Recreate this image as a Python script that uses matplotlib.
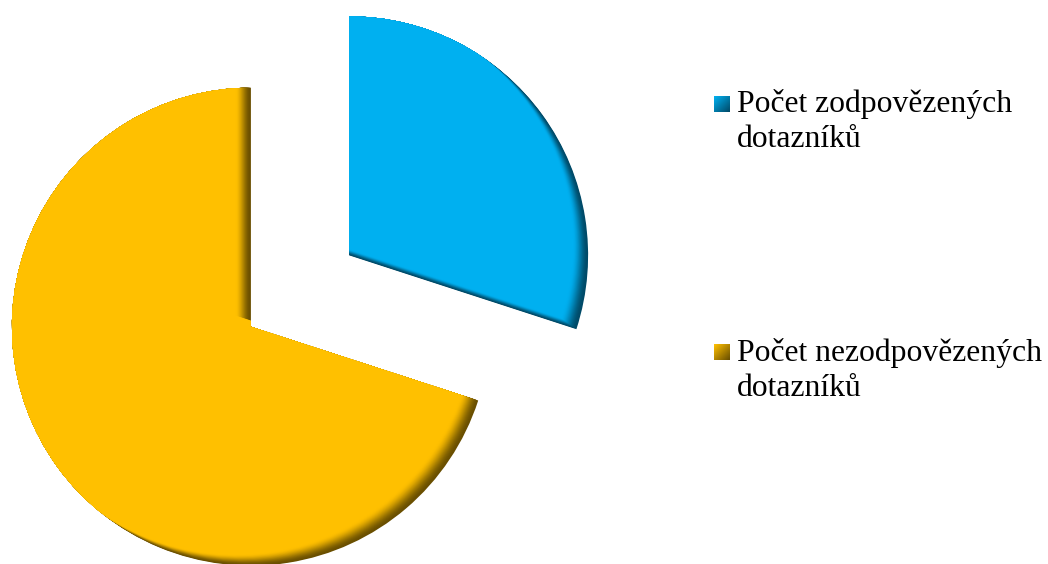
import numpy as np
import matplotlib.pyplot as plt
from matplotlib.patches import Wedge
from matplotlib.transforms import Affine2D
from matplotlib.colors import to_rgb

labels = ["Počet zodpovězených dotazníků", "Počet nezodpovězených dotazníků"]
values = [30, 70]
colors = ["#00B0F0", "#FFC000"]
dark_colors = ["#004A68", "#6A4F00"]

W, H = 1048, 564
R = 239.0           # pie radius in pixels
cx, cy = 300, 291   # pie centre in pixels (from top)

fig = plt.figure(figsize=(W / 100, H / 100), dpi=100)
ax = fig.add_axes([0, 0, 1, 1])
ax.set_xlim(-cx / R, (W - cx) / R)
ax.set_ylim(-(H - cy) / R, cy / R)
ax.set_aspect("equal")
ax.axis("off")

wedges, _ = ax.pie(values, colors=dark_colors, startangle=90, counterclock=False,
                   explode=[0.254, 0.254], radius=1,
                   wedgeprops=dict(linewidth=0))

# inner shadow: lighter copies shifted up-left, clipped to each wedge
steps = 20
sx, sy = 15.0, 11.0
for w, base, dark in zip(wedges, colors, dark_colors):
    c0, c1 = np.array(to_rgb(dark)), np.array(to_rgb(base))
    for i in range(1, steps + 1):
        t = i / steps
        k = t * t * (3 - 2 * t)
        col = c0 + (c1 - c0) * k
        cp = Wedge(w.center, w.r, w.theta1, w.theta2, facecolor=col, linewidth=0,
                   transform=ax.transData + Affine2D().translate(-sx * t, sy * t))
        ax.add_patch(cp)
        cp.set_clip_path(w)


def px(x, y):
    return (x - cx) / R, (cy - y) / R


# legend
for (sq_top, base1, base2), lab, base, dark in zip(
        [(96, 112, 147), (344, 361, 396)], labels, colors, dark_colors):
    c0, c1 = np.array(to_rgb(base)), np.array(to_rgb(dark))
    g = np.linspace(0, 1, 16)
    gg = (g[None, :] + g[:, None]) / 2
    img = c0[None, None, :] + (c1 - c0)[None, None, :] * gg[:, :, None]
    x0, y0 = px(714, sq_top)
    x1, y1 = px(730, sq_top + 16)
    ax.imshow(img, extent=[x0, x1, y1, y0], interpolation="bilinear", zorder=3)
    first, second = lab.rsplit(" ", 1)
    tx, ty = px(737, base1)
    ax.text(tx, ty, first, fontsize=22.8, family="Liberation Serif", va="baseline", ha="left")
    tx, ty = px(737, base2)
    ax.text(tx, ty, second, fontsize=22.8, family="Liberation Serif", va="baseline", ha="left")

ax.set_xlim(-cx / R, (W - cx) / R)
ax.set_ylim(-(H - cy) / R, cy / R)
fig.savefig("out.png", dpi=100)
